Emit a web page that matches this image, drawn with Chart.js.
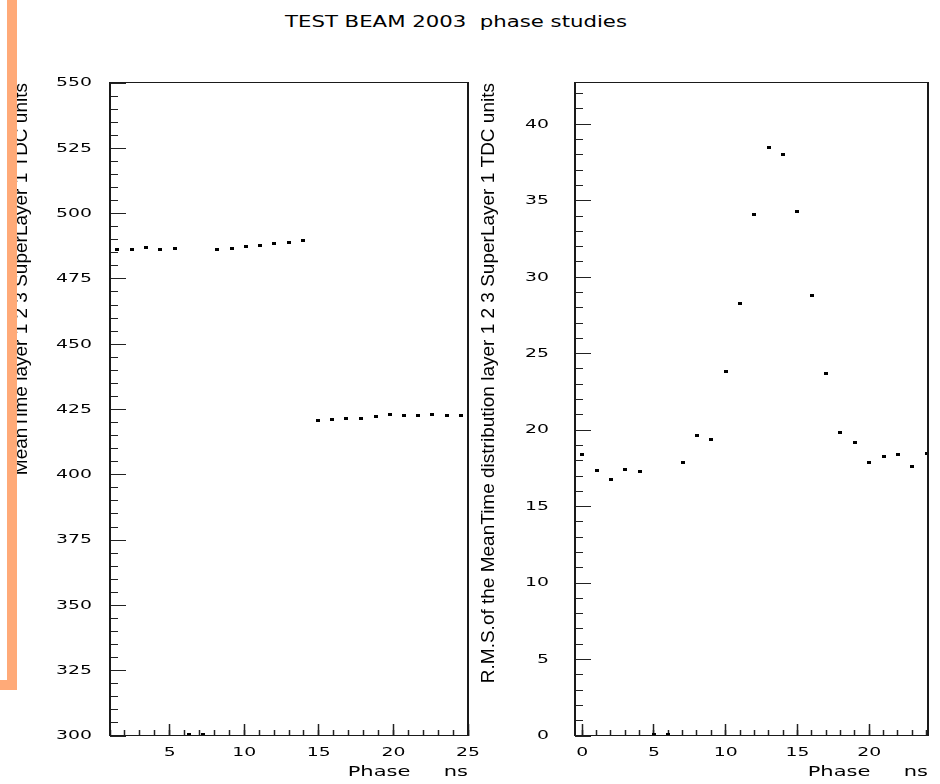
<!DOCTYPE html>
<html>
<head>
<meta charset="utf-8">
<script src="https://cdn.jsdelivr.net/npm/chart.js@4/dist/chart.umd.min.js"></script>
<style>
  html, body { margin: 0; padding: 0; background: #fff; }
  body { width: 940px; height: 784px; position: relative; overflow: hidden; }
  #title { position: absolute; left: 285px; top: 13px; font: 15px 'DejaVu Sans', Arial, sans-serif;
           white-space: pre; transform-origin: 0 0; color: #000; }
  canvas { position: absolute; top: 0; }
  #c1 { left: 0; }
  #c2 { left: 470px; }
  .orange { position: absolute; background: #FFAA78; z-index: 5; }
</style>
</head>
<body>
<div id="title">TEST BEAM 2003  phase studies</div>
<canvas id="c1" width="490" height="784" style="width:490px;height:784px"></canvas>
<canvas id="c2" width="470" height="784" style="width:470px;height:784px"></canvas>
<div class="orange" style="left:7px;top:0;width:10px;height:690px"></div>
<div class="orange" style="left:0;top:680px;width:17px;height:10px"></div>
<script>
// ---------------- data ----------------
const leftPhase = [1.5, 2.45, 3.4, 4.35, 5.35, 6.3, 7.25, 8.2, 9.15, 10.1, 11.05, 12.0, 13.0,
                   13.95, 14.95, 15.9, 16.85, 17.8, 18.8, 19.75, 20.7, 21.65, 22.6, 23.6, 24.55];
const leftMeanTime = [486.4, 486.4, 487.1, 486.2, 486.6, 300.5, 300.5, 486.4, 486.8, 487.3, 487.6, 488.4, 489.1,
                      489.8, 420.6, 421.2, 421.5, 421.6, 422.4, 422.9, 422.8, 422.6, 423.2, 422.6, 422.8];
const rightPhase = [0, 1, 2, 3, 4, 5, 6, 7, 8, 9, 10, 11, 12, 13, 14, 15, 16, 17, 18, 19, 20, 21, 22, 23, 24];
const rightRms = [18.42, 17.35, 16.74, 17.44, 17.27, 0.1, 0.1, 17.9, 19.67, 19.4, 23.86, 28.31, 34.07,
                  38.48, 38.05, 34.3, 28.8, 23.7, 19.86, 19.2, 17.9, 18.27, 18.42, 17.64, 18.49];

// axis ranges and tick steps [min, max, majorStep, minorStep]
const leftXAxis  = [1, 25, 5, 1];
const leftYAxis  = [300, 550, 25, 5];
const rightXAxis = [-0.5, 24.1, 5, 1];
const rightYAxis = [0, 42.7, 5, 1];

const mainTitle = 'TEST BEAM 2003  phase studies';
const xTitle = 'Phase     ns';
const leftYTitle = 'MeanTime layer 1 2 3 SuperLayer 1 TDC units';
const rightYTitle = 'R.M.S.of the MeanTime distribution layer 1 2 3 SuperLayer 1 TDC units';

// ---------------- styling ----------------
const WIDE = "'DejaVu Sans', Verdana, sans-serif";
const FAMILY = "'Liberation Sans', Arial, Helvetica, sans-serif";
const STRETCH = 1.47;
const TITLE_STRETCH = 1.5;

// title: stretched horizontally like the original
const t = document.getElementById('title');
t.textContent = mainTitle;
const tw = t.getBoundingClientRect().width;
t.style.transform = 'scaleX(' + (342 / tw) + ')';

// linear scale whose horizontal text is stretched (wide ROOT-like lettering)
class StretchLinear extends Chart.LinearScale {
  drawLabels(chartArea) {
    if (!this.options.ticks.display) return;
    const k = this.options.stretch || 1;
    const ctx = this.ctx;
    const items = this.getLabelItems(chartArea);
    for (const item of items) {
      const o = item.options;
      ctx.save();
      ctx.translate(o.translation[0], o.translation[1]);
      if (o.rotation) ctx.rotate(o.rotation);
      ctx.scale(k, 1);
      ctx.font = item.font.string;
      ctx.fillStyle = o.color;
      ctx.textAlign = o.textAlign;
      ctx.textBaseline = o.textBaseline;
      const lines = Array.isArray(item.label) ? item.label : [item.label];
      let y = item.textOffset;
      for (const line of lines) { ctx.fillText(String(line), 0, y); y += item.font.lineHeight; }
      ctx.restore();
    }
  }
  drawTitle() {
    const tt = this.options.title;
    if (!tt.display) return;
    const k = this.options.titleStretch;
    if (!k || !this.isHorizontal()) return super.drawTitle();
    const ctx = this.ctx;
    const size = tt.font.size || 14;
    const lh = size * 1.2;
    const pad = typeof tt.padding === 'number' ? tt.padding : (tt.padding.bottom || 0);
    ctx.save();
    ctx.translate(this.right, this.bottom - (lh / 2 + pad));
    ctx.scale(k, 1);
    ctx.font = size + 'px ' + (tt.font.family || WIDE);
    ctx.fillStyle = tt.color;
    ctx.textAlign = 'right';
    ctx.textBaseline = 'middle';
    ctx.fillText(tt.text, 0, 0);
    ctx.restore();
  }
}
StretchLinear.id = 'stretchLinear';
StretchLinear.defaults = Chart.LinearScale.defaults;
Chart.register(StretchLinear);

// ROOT-like frame: thin horizontal, thicker vertical lines
const framePlugin = {
  id: 'frame',
  afterDatasetsDraw(chart) {
    const { ctx, chartArea: a } = chart;
    ctx.save();
    ctx.fillStyle = '#1a1a1a';
    ctx.fillRect(a.left - 1, a.top - 1, 2, a.bottom - a.top + 1);
    ctx.fillRect(a.right - 1, a.top - 1, 2, a.bottom - a.top + 1);
    ctx.fillRect(a.left - 1, a.top - 1, a.right - a.left + 2, 1);
    ctx.fillRect(a.left - 1, a.bottom - 1, a.right - a.left + 2, 1);
    ctx.restore();
  }
};

// small rectangular marker like ROOT's dot marker
const marker = document.createElement('canvas');
marker.width = 4; marker.height = 3;
(function () { const m = marker.getContext('2d'); m.fillStyle = '#000'; m.fillRect(0, 0, 4, 3); })();

function fixX(h) {
  return function (s) { s.height = h; s.paddingLeft = 0; s.paddingRight = 0; };
}
function fixY(w) {
  return function (s) { s.width = w; s.paddingTop = 0; s.paddingBottom = 0; };
}

function makeChart(canvasId, xs, ys, xAxis, yAxis, yTitle, o) {
  return new Chart(document.getElementById(canvasId), {
    type: 'scatter',
    data: {
      datasets: [{
        data: xs.map((x, i) => ({ x: x, y: ys[i] })),
        pointStyle: marker,
        pointRadius: 2,
        pointHoverRadius: 2,
        backgroundColor: '#000',
        borderColor: '#000',
        showLine: false,
        clip: false
      }]
    },
    options: {
      responsive: false,
      animation: false,
      devicePixelRatio: 1,
      events: [],
      layout: { padding: { left: 0, right: o.padRight, top: 83, bottom: 0 } },
      plugins: { legend: { display: false }, tooltip: { enabled: false }, title: { display: false } },
      scales: {
        x: {
          type: 'stretchLinear', position: 'bottom', weight: 1,
          min: xAxis[0], max: xAxis[1], stretch: STRETCH, titleStretch: TITLE_STRETCH,
          ticks: { stepSize: xAxis[2], includeBounds: false, autoSkip: false, maxRotation: 0, minRotation: 0,
                   font: { family: WIDE, size: 12.8 }, color: '#000', padding: 21 },
          grid: { drawOnChartArea: false, drawTicks: true, tickLength: -12, tickColor: '#222', tickWidth: 1.5 },
          border: { display: false },
          title: { display: true, text: xTitle, align: 'end', color: '#000',
                   font: { family: WIDE, size: 14 }, padding: { top: 0, bottom: 3 } },
          afterFit: fixX(48)
        },
        xMinor: {
          type: 'linear', position: 'bottom', weight: 0,
          min: xAxis[0], max: xAxis[1],
          ticks: { display: false, stepSize: xAxis[3], includeBounds: false },
          grid: { drawOnChartArea: false, drawTicks: true, tickLength: -6, tickColor: '#222', tickWidth: 1.5 },
          border: { display: false },
          afterFit: fixX(0)
        },
        y: {
          type: 'stretchLinear', position: 'left', weight: 1,
          min: yAxis[0], max: yAxis[1], stretch: STRETCH,
          ticks: { stepSize: yAxis[2], includeBounds: false, autoSkip: false,
                   font: { family: WIDE, size: 12.8 }, color: '#000', padding: o.yLabelPad },
          grid: { drawOnChartArea: false, drawTicks: true, tickLength: -16, tickColor: '#222', tickWidth: 1 },
          border: { display: false },
          title: { display: true, text: yTitle, align: 'end', color: '#000',
                   font: { family: FAMILY, size: 19 }, padding: { top: o.yTitlePad, bottom: 0 } },
          afterFit: fixY(o.yWidth)
        },
        yMinor: {
          type: 'linear', position: 'left', weight: 0,
          min: yAxis[0], max: yAxis[1],
          ticks: { display: false, stepSize: yAxis[3], includeBounds: false },
          grid: { drawOnChartArea: false, drawTicks: true, tickLength: -8, tickColor: '#222', tickWidth: 1 },
          border: { display: false },
          afterFit: fixY(0)
        }
      }
    },
    plugins: [framePlugin]
  });
}

makeChart('c1', leftPhase, leftMeanTime, leftXAxis, leftYAxis, leftYTitle,
          { padRight: 22, yWidth: 110, yLabelPad: 34, yTitlePad: 10.6 });
makeChart('c2', rightPhase, rightRms, rightXAxis, rightYAxis, rightYTitle,
          { padRight: 12, yWidth: 105, yLabelPad: 42, yTitlePad: 7.6 });
</script>
</body>
</html>
